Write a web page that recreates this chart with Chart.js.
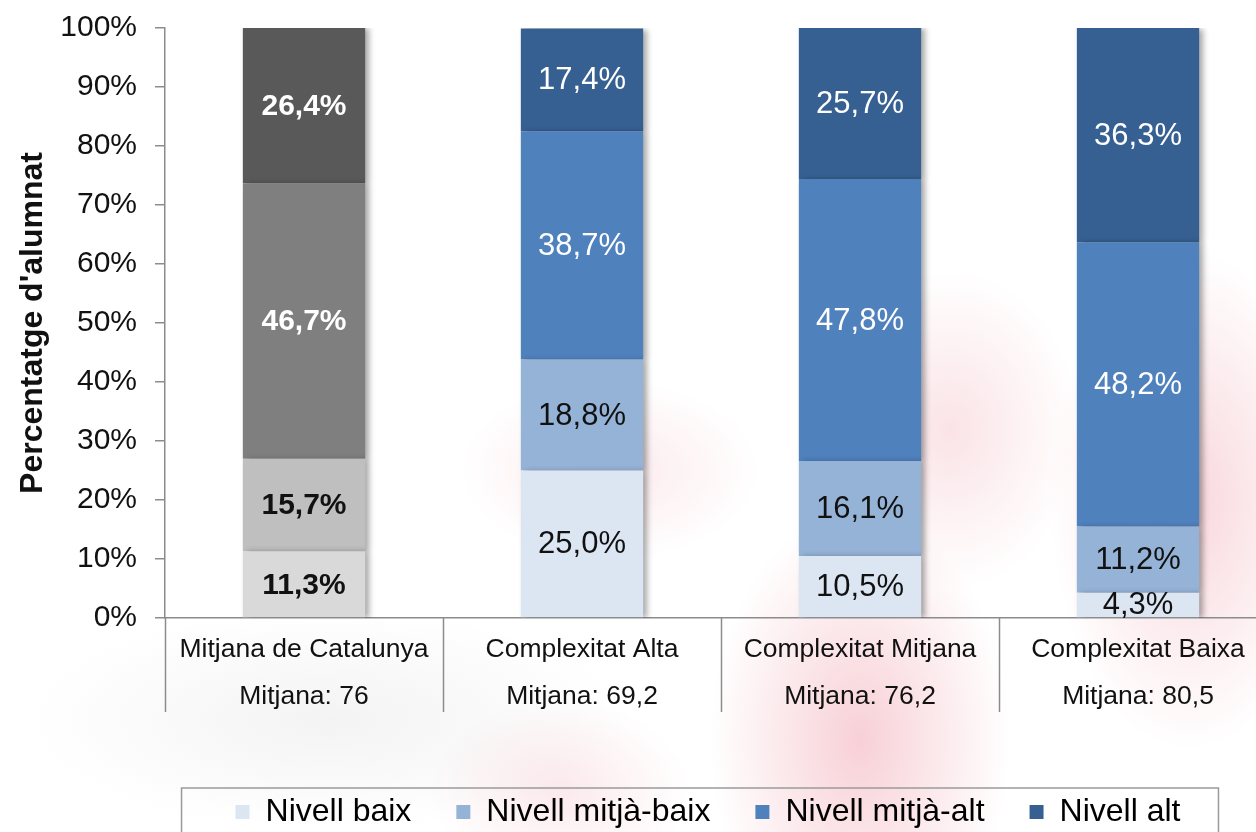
<!DOCTYPE html>
<html>
<head>
<meta charset="utf-8">
<script src="https://cdn.jsdelivr.net/npm/chart.js@4.4.1/dist/chart.umd.min.js"></script>
<style>
    html, body {
        margin: 0;
        padding: 0;
        overflow: hidden;
        background: #fff;
    }
    body {
        width: 1256px;
        height: 832px;
        background:
            radial-gradient(ellipse 150px 230px at 860px 740px, rgba(230, 100, 120, 0.30), rgba(230, 100, 120, 0) 100%),
            radial-gradient(ellipse 140px 250px at 1190px 500px, rgba(230, 100, 120, 0.26), rgba(230, 100, 120, 0) 100%),
            radial-gradient(ellipse 130px 160px at 950px 430px, rgba(230, 100, 120, 0.18), rgba(230, 100, 120, 0) 100%),
            radial-gradient(ellipse 150px 90px at 610px 470px, rgba(230, 100, 120, 0.14), rgba(230, 100, 120, 0) 100%),
            radial-gradient(ellipse 130px 90px at 560px 790px, rgba(230, 100, 120, 0.14), rgba(230, 100, 120, 0) 100%),
            radial-gradient(ellipse 300px 110px at 330px 720px, rgba(190, 190, 190, 0.18), rgba(190, 190, 190, 0) 100%),
            #fff;
    }
    #wrap {
        position: relative;
        width: 1280px;
        height: 838px;
    }
</style>
</head>
<body>
<div id="wrap"><canvas id="chart"></canvas></div>
<script>
// Data
const categories = [
    ['Mitjana de Catalunya', 'Mitjana: 76'],
    ['Complexitat Alta', 'Mitjana: 69,2'],
    ['Complexitat Mitjana', 'Mitjana: 76,2'],
    ['Complexitat Baixa', 'Mitjana: 80,5']
];
const seriesNames = ['Nivell baix', 'Nivell mitjà-baix', 'Nivell mitjà-alt', 'Nivell alt'];
const nivellBaix = [11.3, 25.0, 10.5, 4.3];
const nivellMitjaBaix = [15.7, 18.8, 16.1, 11.2];
const nivellMitjaAlt = [46.7, 38.7, 47.8, 48.2];
const nivellAlt = [26.4, 17.4, 25.7, 36.3];
const yTicks = [0, 10, 20, 30, 40, 50, 60, 70, 80, 90, 100];

// Colours: first bar (Catalunya) in greys, the rest in blues
const greyShades = ['#d9d9d9', '#bfbfbf', '#7f7f7f', '#595959'];
const blueShades = ['#dce6f2', '#95b3d7', '#4f81bd', '#376092'];
const labelColors = ['#111', '#111', '#fff', '#fff'];

const seriesValues = [nivellBaix, nivellMitjaBaix, nivellMitjaAlt, nivellAlt];

const datasets = seriesValues.map((values, i) => ({
    label: seriesNames[i],
    data: values,
    backgroundColor: [greyShades[i], blueShades[i], blueShades[i], blueShades[i]],
    borderWidth: 0,
    barPercentage: 0.44,
    categoryPercentage: 1
}));

const FONT = '"Liberation Sans", Arial, sans-serif';
const LEGEND_SHIFT = -13;
const formatPct = (v) => v.toFixed(1).replace('.', ',') + '%';

// Soft drop shadow on bars, value labels, separators and legend frame
const barDecor = {
    id: 'barDecor',
    afterUpdate(chart) {
        // legend sits a little left of the plot centre in the original
        const lg = chart.legend;
        if (lg) {
            lg.left += LEGEND_SHIFT;
            lg.right += LEGEND_SHIFT;
            (lg.legendHitBoxes || []).forEach(hb => { hb.left += LEGEND_SHIFT; });
        }
    },
    beforeDatasetsDraw(chart) {
        const ctx = chart.ctx;
        ctx.save();
        ctx.shadowColor = 'rgba(0, 0, 0, 0.35)';
        ctx.shadowBlur = 6;
        ctx.shadowOffsetX = 4;
        ctx.shadowOffsetY = 1;
    },
    afterDatasetsDraw(chart) {
        const ctx = chart.ctx;
        ctx.restore();

        ctx.save();
        ctx.textAlign = 'center';
        ctx.textBaseline = 'middle';
        chart.data.datasets.forEach((ds, di) => {
            const meta = chart.getDatasetMeta(di);
            meta.data.forEach((bar, i) => {
                ctx.font = (i === 0 ? 'bold 30px ' : '31px ') + FONT;
                ctx.fillStyle = labelColors[di];
                const y = (bar.y + bar.base) / 2;
                ctx.fillText(formatPct(ds.data[i]), bar.x, y + 1);
            });
        });
        ctx.restore();
    },
    afterDraw(chart) {
        const ctx = chart.ctx;
        const x = chart.scales.x;
        const area = chart.chartArea;

        // category separators below the axis
        const step = x.getPixelForValue(1) - x.getPixelForValue(0);
        ctx.save();
        ctx.strokeStyle = '#8c8c8c';
        ctx.lineWidth = 1.5;
        for (let i = 0; i < categories.length; i++) {
            const px = Math.round(x.getPixelForValue(i) - step / 2) + 0.5;
            ctx.beginPath();
            ctx.moveTo(px, area.bottom);
            ctx.lineTo(px, area.bottom + 94);
            ctx.stroke();
        }

        // legend frame
        const boxes = chart.legend.legendHitBoxes;
        if (boxes && boxes.length) {
            const first = boxes[0];
            const last = boxes[boxes.length - 1];
            const left = first.left - 54;
            const right = last.left + last.width + 38;
            const top = first.top - 8;
            ctx.strokeStyle = '#9a9a9a';
            ctx.lineWidth = 1.5;
            ctx.strokeRect(left, top, right - left, chart.height - top + 20);
        }
        ctx.restore();
    }
};

const ctx = document.getElementById('chart').getContext('2d');

new Chart(ctx, {
    type: 'bar',
    data: {
        labels: categories,
        datasets: datasets
    },
    options: {
        responsive: true,
        maintainAspectRatio: false,
        animation: false,
        events: [],
        layout: {
            padding: { top: 28, right: 3, bottom: 0, left: 0 }
        },
        plugins: {
            legend: {
                position: 'bottom',
                fullSize: false,
                labels: {
                    boxWidth: 14,
                    boxHeight: 14,
                    padding: 45,
                    color: '#000',
                    font: { family: FONT, size: 32 },
                    generateLabels: () => seriesNames.map((name, i) => ({
                        text: name,
                        fillStyle: blueShades[i],
                        strokeStyle: blueShades[i],
                        lineWidth: 0,
                        hidden: false,
                        datasetIndex: i,
                        fontColor: '#000'
                    }))
                }
            },
            tooltip: { enabled: false }
        },
        scales: {
            x: {
                stacked: true,
                grid: { display: true, drawOnChartArea: false, drawTicks: false },
                border: { display: true, color: '#8c8c8c', width: 1.5 },
                ticks: {
                    color: '#111',
                    padding: 8,
                    maxRotation: 0,
                    autoSkip: false,
                    font: { family: FONT, size: 26.5, lineHeight: 1.77 }
                },
                afterFit: (scale) => { scale.height = 133; }
            },
            y: {
                stacked: true,
                min: 0,
                max: 100,
                afterBuildTicks: (scale) => { scale.ticks = yTicks.map(v => ({ value: v })); },
                grid: { display: true, drawOnChartArea: false, drawTicks: true, tickLength: 10, color: '#8c8c8c', lineWidth: 1.5 },
                border: { display: true, color: '#8c8c8c', width: 1.5 },
                ticks: {
                    color: '#111',
                    padding: 18,
                    callback: (v) => v + '%',
                    font: { family: FONT, size: 30 }
                },
                title: {
                    display: true,
                    text: "Percentatge d'alumnat",
                    color: '#111',
                    padding: { top: 14, bottom: 0 },
                    font: { family: FONT, size: 32, weight: 'bold' }
                },
                afterFit: (scale) => {
                    scale.width = 165;
                    scale.paddingTop = 0;
                    scale.paddingBottom = 0;
                }
            }
        }
    },
    plugins: [barDecor]
});
</script>
</body>
</html>
